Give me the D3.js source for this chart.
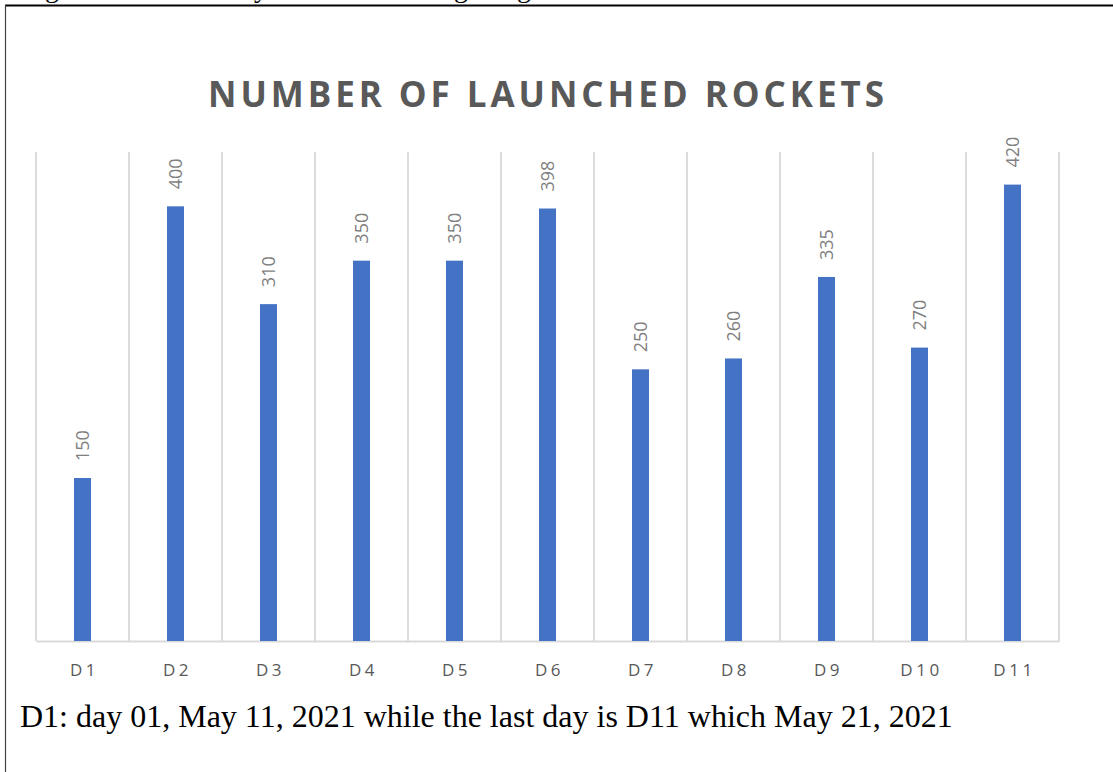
<!DOCTYPE html>
<html>
<head>
<meta charset="utf-8">
<script src="https://cdn.jsdelivr.net/npm/d3@7"></script>
<style>
    body { margin: 0; background: #fff; }
    svg { display: block; }
</style>
</head>
<body>
<div id="chart"></div>
<script>
(function() {
    "use strict";

    // data
    var days = ["D1", "D2", "D3", "D4", "D5", "D6", "D7", "D8", "D9", "D10", "D11"];
    var rockets = [150, 400, 310, 350, 350, 398, 250, 260, 335, 270, 420];
    var title = "NUMBER OF LAUNCHED ROCKETS";
    var note = "D1: day 01, May 11, 2021 while the last day is D11 which May 21, 2021";
    // descenders of the cut-off line above the frame
    var cutGlyphs = [{ch: "g", x: 52}, {ch: "y", x: 261}, {ch: "g", x: 461}, {ch: "g", x: 524}];

    var w = 1113, h = 772,
        left = 36, right = 1059,
        top = 152, bottom = 641;

    var svg = d3.select("#chart").append("svg")
        .attr("width", w)
        .attr("height", h);

    // page frame bits
    svg.append("line")
        .attr("x1", 5).attr("x2", w).attr("y1", 5.5).attr("y2", 5.5)
        .attr("stroke", "#000").attr("stroke-width", 2);
    svg.append("line")
        .attr("x1", 5.5).attr("x2", 5.5).attr("y1", 5).attr("y2", h)
        .attr("stroke", "#444").attr("stroke-width", 1.2);

    svg.selectAll("text.cut")
        .data(cutGlyphs)
        .enter()
        .append("text")
        .attr("class", "cut")
        .attr("x", function(d) { return d.x; })
        .attr("y", -3)
        .attr("text-anchor", "middle")
        .style("font", "28px 'Liberation Serif'")
        .attr("fill", "#000")
        .text(function(d) { return d.ch; });

    var xScale = d3.scaleBand()
        .domain(days)
        .range([left, right]);

    var yScale = d3.scaleLinear()
        .domain([0, 450])
        .range([bottom, top]);

    // vertical category separators
    var edges = days.map(function(d) { return xScale(d); }).concat([right]);
    svg.selectAll("line.grid")
        .data(edges)
        .enter()
        .append("line")
        .attr("class", "grid")
        .attr("x1", function(d) { return d; })
        .attr("x2", function(d) { return d; })
        .attr("y1", top)
        .attr("y2", bottom)
        .attr("stroke", "#d9d9d9")
        .attr("stroke-width", 1.8);

    // x axis
    var xAxis = d3.axisBottom(xScale).tickSize(0).tickPadding(0);
    var gx = svg.append("g")
        .attr("transform", "translate(0," + bottom + ")")
        .call(xAxis);
    gx.select(".domain")
        .attr("stroke", "#d9d9d9")
        .attr("stroke-width", 2);
    gx.selectAll("text")
        .attr("y", 35)
        .attr("dy", 0)
        .attr("dx", "2px")
        .attr("fill", "#595959")
        .style("font-family", "'Open Sans'")
        .style("font-size", "17px")
        .style("letter-spacing", "3.5px");

    // bars
    var barW = 17;
    svg.selectAll("rect.bar")
        .data(rockets)
        .enter()
        .append("rect")
        .attr("class", "bar")
        .attr("x", function(d, i) { return xScale(days[i]) + xScale.bandwidth() / 2 - barW / 2; })
        .attr("y", function(d) { return yScale(d); })
        .attr("width", barW)
        .attr("height", function(d) { return bottom - yScale(d); })
        .attr("fill", "#4472c4");

    // rotated value labels
    svg.selectAll("text.val")
        .data(rockets)
        .enter()
        .append("text")
        .attr("class", "val")
        .attr("transform", function(d, i) {
            var cx = xScale(days[i]) + xScale.bandwidth() / 2;
            return "translate(" + cx + "," + (yScale(d) - 17) + ") rotate(-90)";
        })
        .attr("dy", "0.35em")
        .attr("text-anchor", "start")
        .attr("fill", "#7f7f7f")
        .style("font", "18px 'Open Sans'")
        .text(function(d) { return d; });

    // title
    svg.append("text")
        .attr("x", 208)
        .attr("y", 107)
        .attr("fill", "#595959")
        .attr("textLength", 676)
        .attr("lengthAdjust", "spacing")
        .style("font", "bold 35px 'Open Sans'")
        .text(title);

    // caption under the chart
    svg.append("text")
        .attr("x", 20)
        .attr("y", 727)
        .attr("fill", "#000")
        .style("font", "32px 'Liberation Serif'")
        .text(note);
}());
</script>
</body>
</html>
